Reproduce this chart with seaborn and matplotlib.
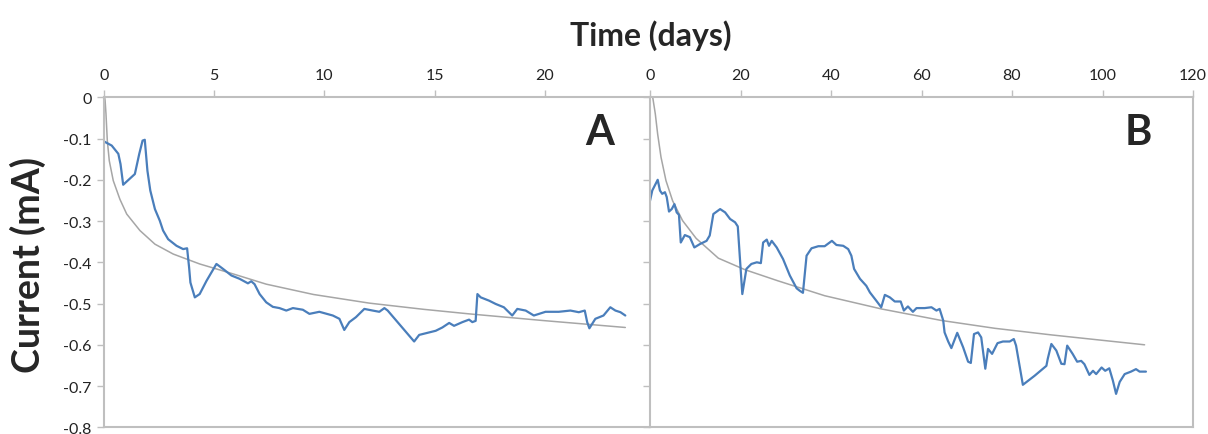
import numpy as np
import pandas as pd
import matplotlib
matplotlib.use("Agg")
import matplotlib.pyplot as plt
import seaborn as sns
from matplotlib.ticker import FuncFormatter

# Panel A: measured current and fitted trend (days, mA)
a_days = [0, 0.35, 0.65, 0.75, 0.87, 1.4, 1.6, 1.75, 1.85, 1.97, 2.1, 2.31, 2.53,
          2.68, 2.91, 3.29, 3.59, 3.77, 3.86, 3.92, 4.12, 4.34, 4.65, 5.10, 5.40,
          5.78, 6.15, 6.53, 6.68, 6.83, 7.06, 7.36, 7.66, 7.96, 8.27, 8.57, 9.02,
          9.32, 9.77, 10.38, 10.68, 10.90, 11.13, 11.43, 11.81, 12.19, 12.49, 12.72,
          12.87, 14.07, 14.30, 14.60, 15.05, 15.35, 15.66, 15.88, 16.26, 16.56,
          16.71, 16.86, 16.94, 17.09, 17.47, 17.77, 18.14, 18.52, 18.75, 19.13,
          19.50, 20.03, 20.63, 21.16, 21.54, 21.81, 21.92, 22.02, 22.29, 22.66,
          22.97, 23.20, 23.43, 23.65]
a_current = [-0.107, -0.117, -0.137, -0.162, -0.212, -0.186, -0.137, -0.105, -0.103,
             -0.178, -0.226, -0.271, -0.299, -0.323, -0.344, -0.360, -0.368, -0.366,
             -0.412, -0.449, -0.485, -0.477, -0.445, -0.404, -0.416, -0.432, -0.440,
             -0.451, -0.446, -0.453, -0.477, -0.497, -0.508, -0.511, -0.517, -0.511,
             -0.515, -0.525, -0.520, -0.529, -0.537, -0.564, -0.545, -0.533, -0.513,
             -0.517, -0.520, -0.511, -0.517, -0.592, -0.576, -0.572, -0.566, -0.558,
             -0.547, -0.554, -0.545, -0.539, -0.545, -0.542, -0.477, -0.485, -0.493,
             -0.501, -0.509, -0.529, -0.513, -0.517, -0.529, -0.520, -0.520, -0.517,
             -0.521, -0.517, -0.545, -0.560, -0.537, -0.529, -0.509, -0.517, -0.521,
             -0.529]
a_fit_days = [0.03, 0.05, 0.09, 0.15, 0.24, 0.42, 0.72, 1.03, 1.63, 2.31, 3.14, 4.34,
              5.85, 7.36, 9.5, 12.04, 14.5, 16.56, 19.88, 23.65]
a_fit = [0.0, -0.008, -0.040, -0.105, -0.154, -0.202, -0.247, -0.283, -0.323, -0.356,
         -0.380, -0.404, -0.428, -0.453, -0.478, -0.499, -0.514, -0.525, -0.541, -0.558]

# Panel B
b_days = [0, 0.5, 1.7, 2.2, 2.7, 3.3, 3.7, 4.2, 4.8, 5.4, 5.9, 6.4, 6.8, 7.7, 8.8, 9.8,
          11.0, 12.5, 13.2, 14.0, 15.5, 16.6, 17.7, 18.8, 19.4, 20.4, 21.3, 22.4, 23.6,
          24.5, 25.0, 25.8, 26.3, 26.9, 28.0, 29.4, 30.9, 32.4, 33.1, 33.8, 34.6, 35.7,
          37.2, 38.6, 40.2, 41.2, 42.7, 43.8, 44.5, 45.1, 46.4, 47.8, 48.6, 50.0, 51.1,
          51.9, 53.0, 54.1, 55.4, 56.1, 57.0, 58.1, 58.9, 60.7, 62.2, 63.3, 64.0, 64.8,
          65.1, 65.9, 66.6, 67.9, 69.2, 70.3, 70.9, 71.6, 72.5, 73.2, 74.1, 74.7, 75.6,
          76.8, 78.0, 79.5, 80.4, 80.9, 82.4, 85.0, 87.6, 87.9, 88.7, 89.8, 90.9, 91.6,
          92.2, 93.4, 94.4, 95.3, 96.0, 97.1, 97.9, 98.6, 99.8, 100.6, 101.5, 102.3,
          103.0, 103.8, 104.9, 106.3, 107.4, 108.2, 109.6]
b_current = [-0.251, -0.226, -0.200, -0.226, -0.234, -0.230, -0.242, -0.277, -0.271,
             -0.259, -0.279, -0.285, -0.352, -0.334, -0.339, -0.364, -0.356, -0.348,
             -0.335, -0.283, -0.271, -0.279, -0.295, -0.303, -0.313, -0.477, -0.416,
             -0.404, -0.400, -0.402, -0.352, -0.345, -0.360, -0.348, -0.364, -0.392,
             -0.432, -0.463, -0.469, -0.474, -0.384, -0.366, -0.361, -0.361, -0.348,
             -0.358, -0.360, -0.368, -0.384, -0.416, -0.440, -0.457, -0.473, -0.493,
             -0.509, -0.479, -0.485, -0.495, -0.495, -0.517, -0.507, -0.520, -0.511,
             -0.511, -0.509, -0.517, -0.513, -0.541, -0.570, -0.592, -0.608, -0.571,
             -0.606, -0.641, -0.644, -0.574, -0.570, -0.582, -0.658, -0.610, -0.622,
             -0.596, -0.592, -0.592, -0.586, -0.602, -0.697, -0.675, -0.651, -0.634,
             -0.598, -0.614, -0.646, -0.647, -0.602, -0.622, -0.641, -0.639, -0.647,
             -0.673, -0.663, -0.671, -0.655, -0.663, -0.657, -0.687, -0.719, -0.690,
             -0.671, -0.665, -0.659, -0.665, -0.665]
b_fit_days = [0.6, 1.17, 1.69, 2.43, 3.53, 5.0, 7.2, 10.2, 15.1, 21.0, 28.3, 38.6,
              51.1, 64.4, 76.2, 88.7, 109.3]
b_fit = [0.0, -0.040, -0.089, -0.145, -0.202, -0.251, -0.299, -0.342, -0.390, -0.418,
         -0.445, -0.481, -0.513, -0.541, -0.560, -0.576, -0.600]

a_xticks = [0, 5, 10, 15, 20]
b_xticks = [0, 20, 40, 60, 80, 100, 120]
y_ticks = [0, -0.1, -0.2, -0.3, -0.4, -0.5, -0.6, -0.7, -0.8]

sns.set_style("white")
plt.rcParams["font.family"] = ["Lato", "DejaVu Sans"]
plt.rcParams["axes.unicode_minus"] = False

BLUE = "#4a7ebb"
GREY = "#a6a6a6"
SPINE = "#bfbfbf"

fig = plt.figure(figsize=(12.08, 4.35), dpi=100)
ax_a = fig.add_axes([104 / 1208, 1 - 428.3 / 435, 546 / 1208, 330 / 435])
ax_b = fig.add_axes([650 / 1208, 1 - 428.3 / 435, 543 / 1208, 330 / 435])


def style_axis(ax, xmax, xticks, show_ylabels):
    ax.set_xlim(0, xmax)
    ax.set_ylim(-0.8, 0)
    ax.xaxis.tick_top()
    ax.set_xticks(xticks)
    ax.set_yticks(y_ticks)
    ax.yaxis.set_major_formatter(FuncFormatter(lambda v, p: f"{v:g}"))
    ax.tick_params(axis="both", direction="out", length=5, width=1, color=SPINE,
                   labelsize=11.5, labelcolor="#222222", pad=4)
    ax.tick_params(axis="x", top=True, bottom=False, pad=6)
    ax.tick_params(axis="y", left=True, labelleft=show_ylabels)
    for s in ax.spines.values():
        s.set_color(SPINE)
        s.set_linewidth(1.5)
    ax.set_xlabel("")
    ax.set_ylabel("")


sns.lineplot(x=a_fit_days, y=a_fit, ax=ax_a, color=GREY, linewidth=1.1,
             estimator=None, sort=False)
sns.lineplot(x=a_days, y=a_current, ax=ax_a, color=BLUE, linewidth=1.6,
             estimator=None, sort=False)
sns.lineplot(x=b_fit_days, y=b_fit, ax=ax_b, color=GREY, linewidth=1.1,
             estimator=None, sort=False)
sns.lineplot(x=b_days, y=b_current, ax=ax_b, color=BLUE, linewidth=1.6,
             estimator=None, sort=False)

style_axis(ax_a, 24.77, a_xticks, True)
style_axis(ax_b, 119.8, b_xticks, False)
ax_a.spines["right"].set_visible(False)

ax_a.text(0.908, 0.895, "A", transform=ax_a.transAxes, fontsize=30,
          fontweight="bold", ha="center", va="center")
ax_b.text(0.899, 0.895, "B", transform=ax_b.transAxes, fontsize=30,
          fontweight="bold", ha="center", va="center")

fig.text(651 / 1208, 1 - 36 / 435, "Time (days)", fontsize=23, fontweight="bold",
         ha="center", va="center")
fig.text(28 / 1208, 1 - 265 / 435, "Current (mA)", fontsize=27, fontweight="bold",
         ha="center", va="center", rotation=90)

fig.savefig("out.png", dpi=100)
